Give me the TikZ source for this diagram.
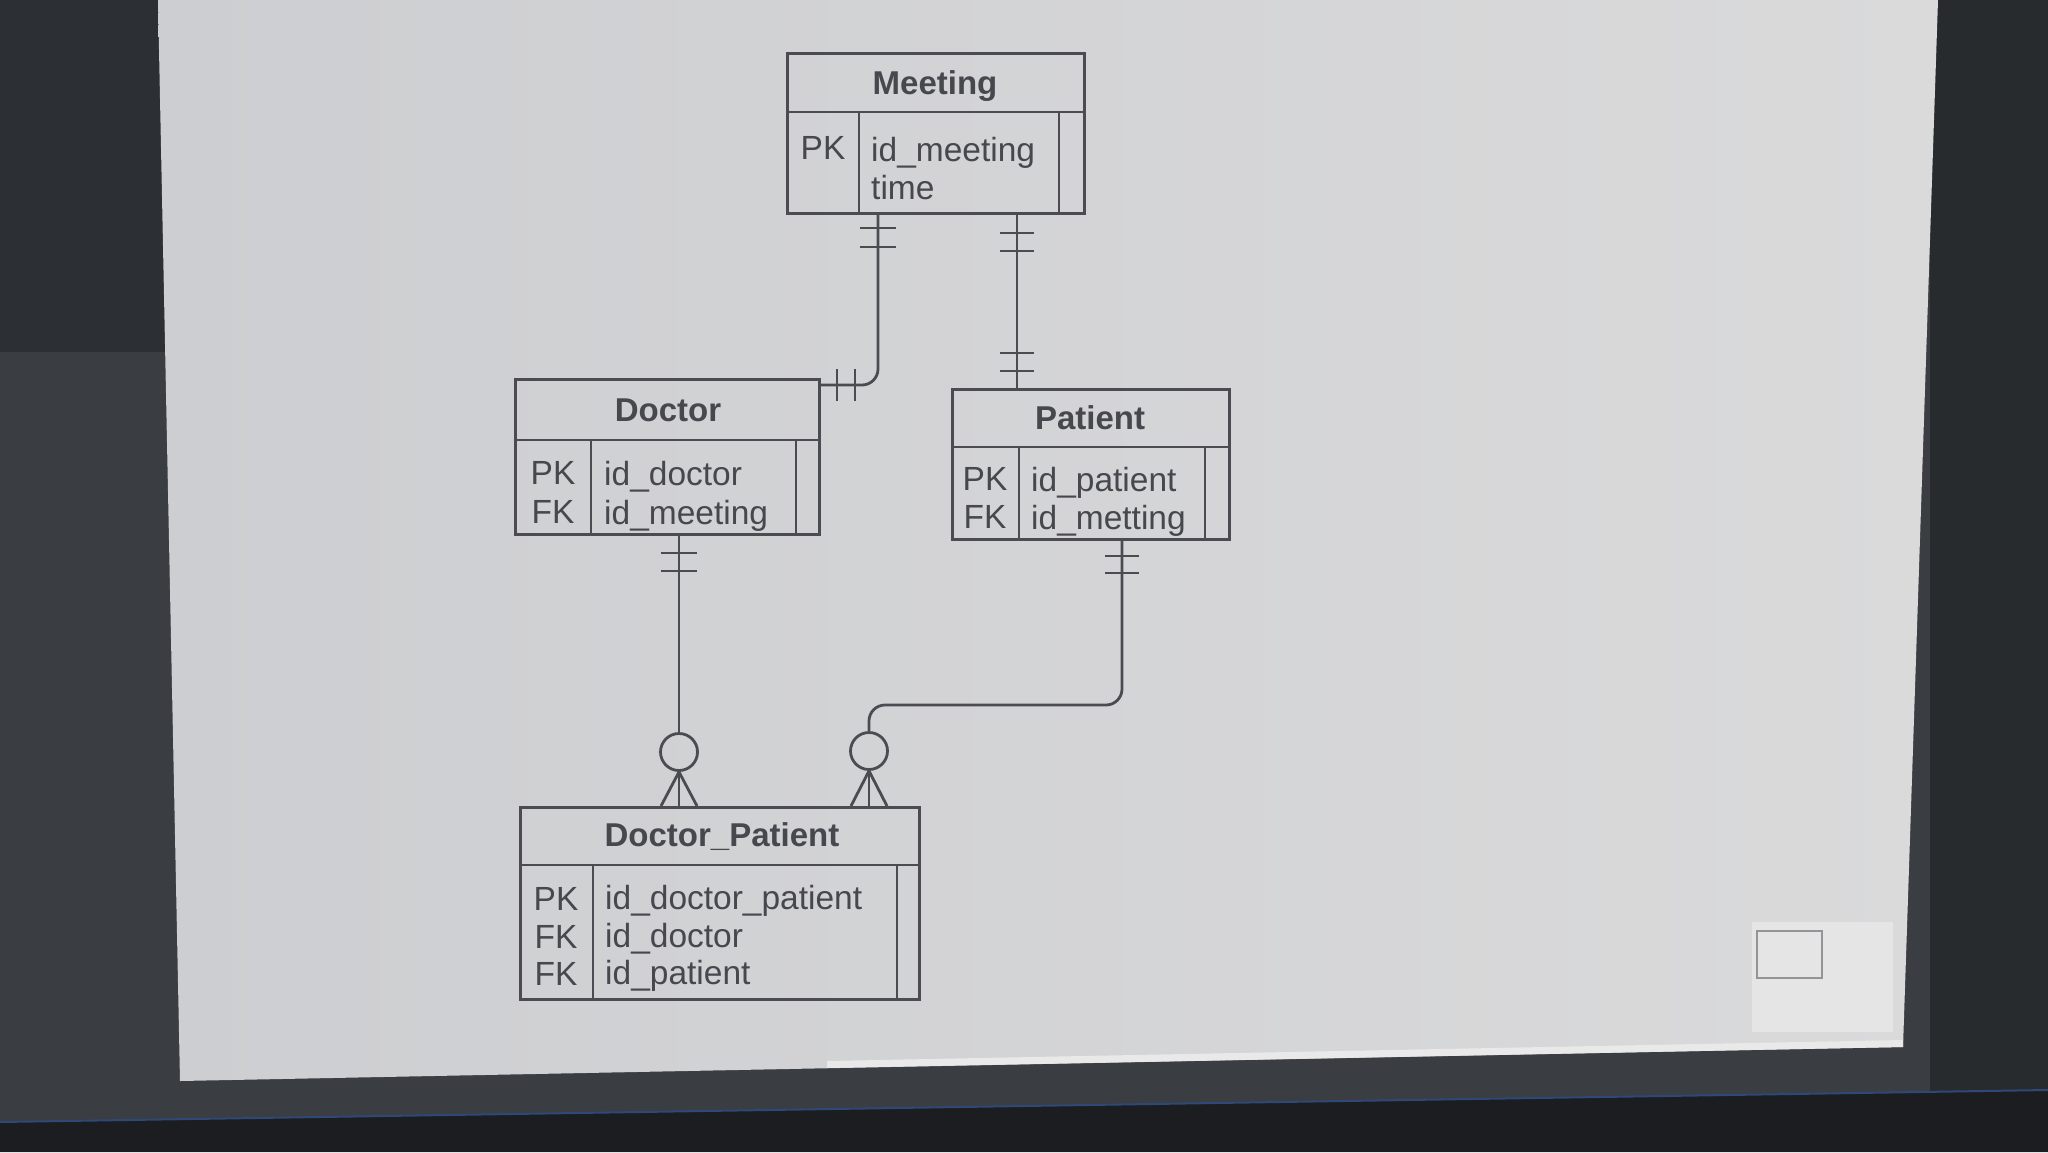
\documentclass[tikz,border=0pt]{standalone}
\usepackage{fontspec}
\setmainfont{Liberation Sans}
\definecolor{canvasA}{RGB}{205,206,209}
\definecolor{canvasB}{RGB}{218,218,219}
\definecolor{ink}{RGB}{74,76,81}
\definecolor{txt}{RGB}{70,72,77}
\definecolor{panel}{RGB}{58,61,65}
\definecolor{paneltop}{RGB}{44,47,51}
\definecolor{panelright}{RGB}{40,43,46}
\definecolor{taskbar}{RGB}{27,29,33}
\definecolor{tasklight}{RGB}{46,72,120}
\begin{document}
\begin{tikzpicture}[x=1pt,y=-1pt,
  ent/.style={draw=ink, line width=2.8pt, inner sep=0pt, anchor=north west},
  ln/.style={draw=ink, line width=2.8pt},
  conn/.style={draw=ink, line width=2.8pt},
  ttl/.style={font=\bfseries\fontsize{33}{33}\selectfont, text=txt, inner sep=0pt, text height=24pt, text depth=0pt},
  fld/.style={font=\fontsize{33.5}{33.5}\selectfont, text=txt, inner sep=0pt, text height=24pt, text depth=0pt},
  fldl/.style={fld, anchor=west},
  opt/.style={circle, draw=ink, line width=2.8pt, minimum size=37pt, inner sep=0pt}]
\useasboundingbox (0,0) rectangle (2048,1152);
% ---- background (screen photo) ----
\fill[panel] (0,0) rectangle (2048,1152);
\fill[paneltop] (0,0) rectangle (170,352);
\fill[panelright] (1930,0) rectangle (2048,1095);
\shade[left color=canvasA, right color=canvasB] (158,0) -- (1938,0) -- (1903,1047) -- (180,1081) -- cycle;
\fill[canvasB!60!white] (827,1068) -- (1903,1047) -- (1903,1040) -- (827,1061) -- cycle;
\fill[taskbar] (0,1122) -- (2048,1090) -- (2048,1152) -- (0,1152) -- cycle;
\draw[tasklight, line width=2pt] (0,1122) -- (2048,1090);
% minimap
\fill[canvasB!70!white] (1752,922) rectangle (1893,1032);
\draw[ink!60, line width=1.5pt] (1757,931) rectangle (1822,978);
% ---- Meeting ----
\node[ent, minimum width=297pt, minimum height=160pt] (meeting) at (786,52) {};
\draw[ln] (meeting.west |- 0,112) -- (meeting.east |- 0,112);
\draw[ln] (859,112) -- (meeting.south -| 859,0);
\draw[ln] (1059,112) -- (meeting.south -| 1059,0);
\node[ttl] (meetingT) at (935,82) {Meeting};
\node[fld] (meetingK1) at (823,147) {PK};
\node[fldl] (meetingF1) at (871,149) {id\_meeting};
\node[fldl] (meetingF2) at (871,187) {time};
% ---- Doctor ----
\node[ent, minimum width=304pt, minimum height=155pt] (doctor) at (514,378) {};
\draw[ln] (doctor.west |- 0,440) -- (doctor.east |- 0,440);
\draw[ln] (591,440) -- (doctor.south -| 591,0);
\draw[ln] (796,440) -- (doctor.south -| 796,0);
\node[ttl] (doctorT) at (668,409) {Doctor};
\node[fld] (doctorK1) at (553,472) {PK};
\node[fld] (doctorK2) at (553,511) {FK};
\node[fldl] (doctorF1) at (604,473) {id\_doctor};
\node[fldl] (doctorF2) at (604,512) {id\_meeting};
% ---- Patient ----
\node[ent, minimum width=277pt, minimum height=150pt] (patient) at (951,388) {};
\draw[ln] (patient.west |- 0,447) -- (patient.east |- 0,447);
\draw[ln] (1019,447) -- (patient.south -| 1019,0);
\draw[ln] (1205,447) -- (patient.south -| 1205,0);
\node[ttl] (patientT) at (1090,417) {Patient};
\node[fld] (patientK1) at (985,478) {PK};
\node[fld] (patientK2) at (985,516) {FK};
\node[fldl] (patientF1) at (1031,479) {id\_patient};
\node[fldl] (patientF2) at (1031,517) {id\_metting};
% ---- Doctor_Patient ----
\node[ent, minimum width=399pt, minimum height=192pt] (dp) at (519,806) {};
\draw[ln] (dp.west |- 0,865) -- (dp.east |- 0,865);
\draw[ln] (593,865) -- (dp.south -| 593,0);
\draw[ln] (897,865) -- (dp.south -| 897,0);
\node[ttl] (dpT) at (722,834) {Doctor\_Patient};
\node[fld] (dpK1) at (556,898) {PK};
\node[fld] (dpK2) at (556,936) {FK};
\node[fld] (dpK3) at (556,973) {FK};
\node[fldl] (dpF1) at (605,897) {id\_doctor\_patient};
\node[fldl] (dpF2) at (605,935) {id\_doctor};
\node[fldl] (dpF3) at (605,972) {id\_patient};
% ---- Meeting -- Doctor (one and only one both ends) ----
\draw[conn, rounded corners=16pt] (meeting.south -| 878,0) |- ([yshift=-7pt]doctor.north east);
\draw[ln] (860,228) -- (896,228) (860,247) -- (896,247);
\draw[ln] (837,369) -- (837,401) (855,369) -- (855,401);
% ---- Meeting -- Patient ----
\draw[conn] (meeting.south -| 1017,0) -- (patient.north -| 1017,0);
\draw[ln] (1000,233) -- (1034,233) (1000,251) -- (1034,251);
\draw[ln] (1000,353) -- (1034,353) (1000,371) -- (1034,371);
% ---- Doctor -- Doctor_Patient (one to zero-or-many) ----
\node[opt] (o1) at (679,752) {};
\draw[conn] (doctor.south -| 679,0) -- (o1.north);
\draw[ln] (661,553) -- (697,553) (661,571) -- (697,571);
\draw[ln] (o1.south) -- (dp.north -| 661,0);
\draw[ln] (o1.south) -- (dp.north -| 679,0);
\draw[ln] (o1.south) -- (dp.north -| 697,0);
% ---- Patient -- Doctor_Patient ----
\node[opt] (o2) at (869,751) {};
\draw[conn, rounded corners=16pt] (patient.south -| 1122,0) |- (869,705) -- (o2.north);
\draw[ln] (1105,556) -- (1139,556) (1105,573) -- (1139,573);
\draw[ln] (o2.south) -- (dp.north -| 851,0);
\draw[ln] (o2.south) -- (dp.north -| 869,0);
\draw[ln] (o2.south) -- (dp.north -| 887,0);
\end{tikzpicture}
\end{document}
